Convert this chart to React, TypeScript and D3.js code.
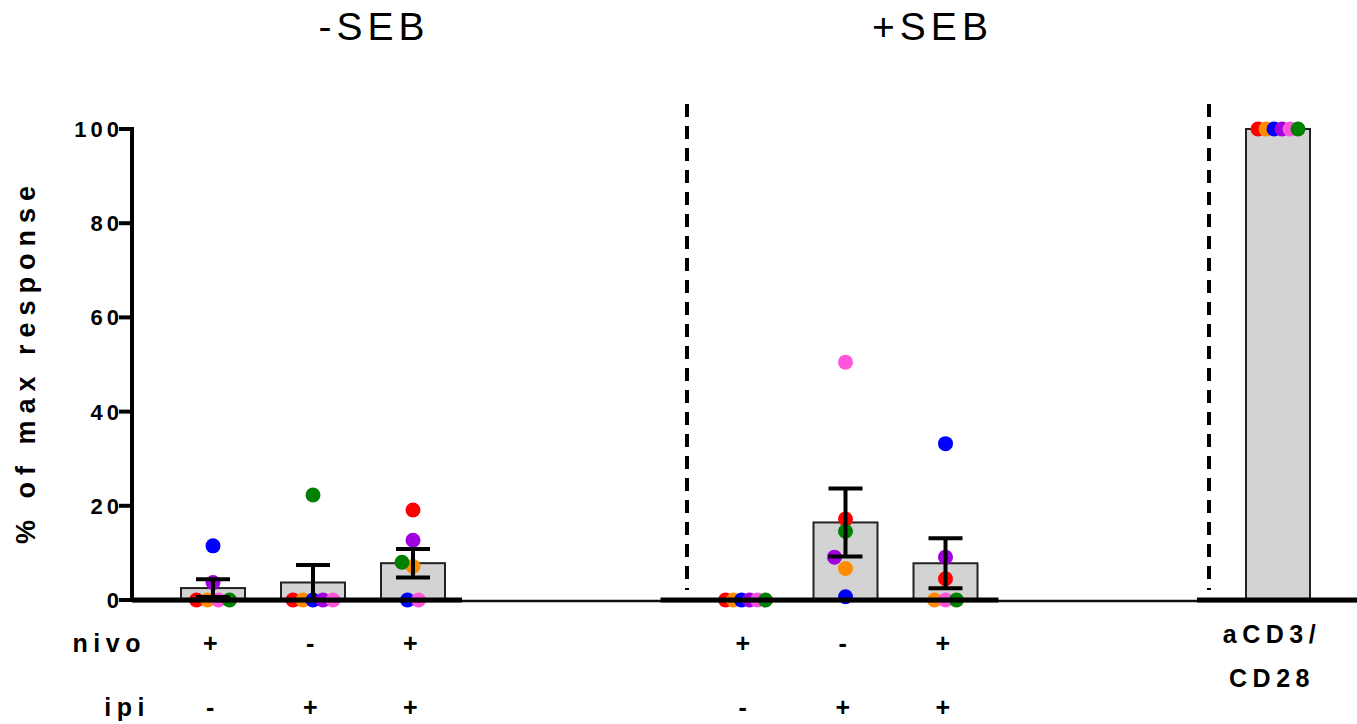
import { useMemo } from "react";
import * as d3 from "d3";

const WIDTH = 1357;
const HEIGHT = 724;
const FONT = "'Liberation Sans', Arial, sans-serif";

// donors, in the order their dots are placed
const donorColors = ["#ff0000", "#ff8c00", "#0000ff", "#a000e0", "#ff55dd", "#008000"];

const groupTitles = ["-SEB", "+SEB", ""];
const nivoLabels = ["+", "-", "+", "+", "-", "+"];
const ipiLabels = ["-", "+", "+", "-", "+", "+"];
const controlLabel = ["aCD3/", "CD28"];
const yTicks = [0, 20, 40, 60, 80, 100];

// % of max response, one value per donor
const minusSeb = [
  [0, 0, 11.5, 3.7, 0, 0],
  [0, 0, 0, 0, 0, 22.3],
  [19.1, 7.1, 0, 12.7, 0, 8.0],
];
const plusSeb = [
  [0, 0, 0, 0, 0, 0],
  [17.2, 6.7, 0.7, 9.1, 50.5, 14.6],
  [4.5, 0, 33.2, 9.1, 0, 0],
];
const control = [[100, 100, 100, 100, 100, 100]];

const AXIS_X = 132;
const GROUP_STEP = 5.325; // slots between group starts
const TITLE_OFFSET = [1.58, 1.84];
const DIVIDER_OFFSET = [0, 0.585, 0.69];
const SEG_PAD = [
  [null, 0.49],
  [0.85, 0.53],
  [0.81, null],
];
const BAR_W = 64;
const CAP_W = 34;
const DOT_R = 7.5;
const SWARM_STEP = 11;
const SWARM_MIN = 11.5;
const SWARM_MAX = 20;

type Cond = { g: number; i: number; slot: number; values: number[] };

// tied values are spread evenly, the rest dodge whatever is already placed
const swarm = (ys: number[]) => {
  const xs: number[] = ys.map(() => 0);
  const placed: { x: number; y: number }[] = [];
  const ties = d3.group(d3.range(ys.length), (i) => Math.round(ys[i]));
  const singles: number[] = [];
  ties.forEach((idx) => {
    if (idx.length < 2) {
      singles.push(idx[0]);
      return;
    }
    idx.forEach((i, j) => {
      xs[i] = (j - (idx.length - 1) / 2) * SWARM_STEP;
      placed.push({ x: xs[i], y: ys[i] });
    });
  });
  singles.sort((a, b) => a - b);
  singles.forEach((i) => {
    const y = ys[i];
    for (let k = 0; k < 30; k++) {
      const cands = k === 0 ? [0] : [-k * SWARM_STEP, k * SWARM_STEP];
      const dx = cands.find((c) => placed.every((p) => Math.hypot(p.x - c, p.y - y) >= SWARM_MIN));
      if (dx !== undefined) {
        xs[i] = dx;
        placed.push({ x: dx, y });
        return;
      }
    }
  });
  const m = d3.max(xs, (x) => Math.abs(x)) ?? 0;
  const k = m > SWARM_MAX ? SWARM_MAX / m : 1;
  return xs.map((x) => x * k);
};

export default function App() {
  const groups = [minusSeb, plusSeb, control];
  const conds: Cond[] = groups.flatMap((vals, g) =>
    vals.map((values, i) => ({ g, i, slot: g * GROUP_STEP + i, values }))
  );

  const xScale = d3.scaleLinear().domain([0, 1]).range([213, 313]);
  const yScale = d3.scaleLinear().domain([0, 100]).range([600, 129]);

  const stats = useMemo(
    () =>
      conds.map((c) => {
        const mean = d3.mean(c.values) ?? 0;
        const sem = (d3.deviation(c.values) ?? 0) / Math.sqrt(c.values.length);
        return { mean, sem };
      }),
    []
  );

  const labelStyle = { fontFamily: FONT, fontWeight: 700, fontSize: 25, letterSpacing: 5.5 };

  return (
    <svg
      width={WIDTH}
      height={HEIGHT}
      style={{ position: "absolute", left: 0, top: 0, background: "#fff" }}
    >
      {/* titles */}
      {groupTitles.slice(0, 2).map((t, g) => (
        <text
          key={t}
          x={xScale(g * GROUP_STEP + TITLE_OFFSET[g]) + 3}
          y={40}
          textAnchor="middle"
          fontFamily={FONT}
          fontSize={39}
          letterSpacing={5}
        >
          {t}
        </text>
      ))}

      {/* dashed dividers */}
      {[1, 2].map((g) => (
        <line
          key={g}
          x1={xScale(g * GROUP_STEP - DIVIDER_OFFSET[g])}
          x2={xScale(g * GROUP_STEP - DIVIDER_OFFSET[g])}
          y1={104}
          y2={590}
          stroke="#000"
          strokeWidth={4}
          strokeDasharray="13 9"
        />
      ))}

      {/* bars */}
      {conds.map((c, k) => (
        <rect
          key={k}
          x={xScale(c.slot) - BAR_W / 2}
          y={yScale(stats[k].mean)}
          width={BAR_W}
          height={yScale(0) - yScale(stats[k].mean)}
          fill="#d3d3d3"
          stroke="#222"
          strokeWidth={2}
        />
      ))}

      {/* donor dots */}
      {conds.map((c, k) => {
        const offs = swarm(c.values.map((v) => yScale(v)));
        return (
          <g key={k}>
            {c.values.map((v, d) => (
              <circle
                key={d}
                cx={xScale(c.slot) + offs[d]}
                cy={yScale(v)}
                r={DOT_R}
                fill={donorColors[d]}
              />
            ))}
          </g>
        );
      })}

      {/* mean +/- SEM */}
      {conds.map((c, k) => {
        const { mean, sem } = stats[k];
        if (sem <= 0) return null;
        const cx = xScale(c.slot);
        const top = yScale(mean + sem);
        const bot = yScale(Math.max(0, mean - sem));
        return (
          <g key={k} stroke="#000" strokeWidth={4}>
            <line x1={cx} x2={cx} y1={top} y2={bot} />
            <line x1={cx - CAP_W / 2} x2={cx + CAP_W / 2} y1={top} y2={top} />
            <line x1={cx - CAP_W / 2} x2={cx + CAP_W / 2} y1={bot} y2={bot} />
          </g>
        );
      })}

      {/* baseline */}
      <line x1={AXIS_X} x2={WIDTH} y1={yScale(0) + 1} y2={yScale(0) + 1} stroke="#111" strokeWidth={2.5} />
      {groups.map((vals, g) => {
        const start = g * GROUP_STEP;
        const end = start + vals.length - 1;
        const x1 = SEG_PAD[g][0] == null ? AXIS_X : xScale(start - (SEG_PAD[g][0] as number));
        const x2 = SEG_PAD[g][1] == null ? WIDTH : xScale(end + (SEG_PAD[g][1] as number));
        return <line key={g} x1={x1} x2={x2} y1={yScale(0)} y2={yScale(0)} stroke="#000" strokeWidth={5} />;
      })}

      {/* y axis */}
      <line x1={AXIS_X} x2={AXIS_X} y1={yScale(100) - 2} y2={yScale(0) + 2} stroke="#000" strokeWidth={4} />
      {yTicks.map((t) => (
        <g key={t}>
          <line x1={AXIS_X - 13} x2={AXIS_X} y1={yScale(t)} y2={yScale(t)} stroke="#000" strokeWidth={4} />
          <text
            x={AXIS_X - 9}
            y={yScale(t) + 8}
            textAnchor="end"
            fontFamily={FONT}
            fontWeight={700}
            fontSize={22}
            letterSpacing={4}
          >
            {t}
          </text>
        </g>
      ))}
      <text
        transform={`translate(35,${(yScale(0) + yScale(100)) / 2 - 3}) rotate(-90)`}
        textAnchor="middle"
        {...labelStyle}
        fontSize={27}
        letterSpacing={7}
      >
        % of max response
      </text>

      {/* condition rows */}
      <text x={146} y={652} textAnchor="end" {...labelStyle}>nivo</text>
      <text x={150} y={716} textAnchor="end" {...labelStyle}>ipi</text>
      {conds
        .filter((c) => c.g < 2)
        .map((c, k) => (
          <g key={k}>
            <text x={xScale(c.slot)} y={652} textAnchor="middle" {...labelStyle}>
              {nivoLabels[k]}
            </text>
            <text x={xScale(c.slot)} y={716} textAnchor="middle" {...labelStyle}>
              {ipiLabels[k]}
            </text>
          </g>
        ))}
      {controlLabel.map((l, j) => (
        <text key={l} x={xScale(2 * GROUP_STEP) - 6} y={643 + j * 44} textAnchor="middle" {...labelStyle}>
          {l}
        </text>
      ))}
    </svg>
  );
}
